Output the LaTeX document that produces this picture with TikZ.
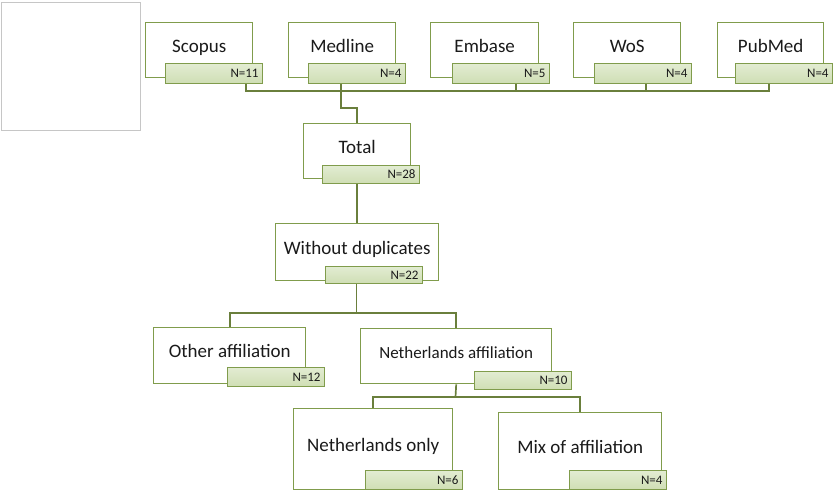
\documentclass[tikz,border=0pt]{standalone}
\usepackage{fontspec}
\setmainfont{Carlito}
\usetikzlibrary{calc}
\definecolor{boxline}{HTML}{809C4C}
\definecolor{tagtop}{HTML}{E2ECD2}
\definecolor{tagfill}{HTML}{CFDEB4}
\definecolor{linkline}{HTML}{6A7F3C}
\definecolor{textgray}{HTML}{1A1A1A}
\newcommand\BoxFont{\fontsize{19}{23}\selectfont}
\newcommand\CountFont{\fontsize{13}{15}\selectfont}
\tikzset{
  mainbox/.style={draw=boxline, line width=1.4pt, fill=white, anchor=north west,
    inner sep=0pt, text height=13pt, text depth=9pt, text=textgray, font=\BoxFont},
  countbox/.style={draw=boxline, line width=1.1pt, top color=tagtop, bottom color=tagfill,
    anchor=north west, inner xsep=4pt, inner ysep=0pt, minimum height=#1,
    text width=89pt, align=right, text=textgray, font=\CountFont},
  countbox/.default=18pt,
  link/.style={draw=linkline, line width=1.7pt}
}
\begin{document}
\begin{tikzpicture}[x=1pt,y=-1pt]
  \useasboundingbox (0,0) rectangle (833,493);
  \node[draw=gray!45, line width=0.8pt, minimum width=139pt, minimum height=128pt,
    anchor=north west, inner sep=0pt] (blank) at (1,2) {};
  % databases
  \node[mainbox, minimum width=107pt, minimum height=55pt] (scopus) at (145,22) {Scopus};
  \node[countbox=20pt] (scopusN) at (165,63) {N=11};
  \node[mainbox, minimum width=107pt, minimum height=55pt] (medline) at (288,22) {Medline};
  \node[countbox=20pt] (medlineN) at (308,63) {N=4};
  \node[mainbox, minimum width=108pt, minimum height=55pt] (embase) at (430,22) {Embase};
  \node[countbox=20pt] (embaseN) at (452,63) {N=5};
  \node[mainbox, minimum width=107pt, minimum height=55pt] (wos) at (573,22) {WoS};
  \node[countbox=20pt] (wosN) at (594,63) {N=4};
  \node[mainbox, minimum width=106pt, minimum height=55pt] (pubmed) at (717,22) {PubMed};
  \node[countbox=20pt] (pubmedN) at (735,63) {N=4};
  % merged
  \node[mainbox, minimum width=107pt, minimum height=55pt] (total) at (303,123) {Total};
  \node[countbox] (totalN) at (322,165) {N=28};
  \node[mainbox, minimum width=163pt, minimum height=57pt] (nodup) at (275,223) {Without duplicates};
  \node[countbox=17pt] (nodupN) at (325,266) {N=22};
  % affiliation
  \node[mainbox, minimum width=152pt, minimum height=56pt] (other) at (153,327) {Other affiliation};
  \node[countbox=19pt] (otherN) at (227,367) {N=12};
  \node[mainbox, minimum width=191pt, minimum height=55pt, font=\fontsize{17}{20}\selectfont]
    (neth) at (360,328) {Netherlands affiliation};
  \node[countbox] (nethN) at (474,371) {N=10};
  \node[mainbox, minimum width=159pt, minimum height=81pt] (nlonly) at (293,408) {Netherlands only};
  \node[countbox=19pt] (nlonlyN) at (365,470) {N=6};
  \node[mainbox, minimum width=163pt, minimum height=77pt] (mix) at (498,412) {Mix of affiliation};
  \node[countbox=19pt] (mixN) at (569,470) {N=4};

  % connectors
  \coordinate (bus1) at (246,91);
  \coordinate (bus2) at (341,91);
  \coordinate (bus3) at (516,91);
  \coordinate (bus4) at (646,91);
  \coordinate (bus5) at (769,91);
  \draw[link] (scopusN.south -| bus1) -- (bus1) -- (bus5) -- (pubmedN.south -| bus5);
  \draw[link] (embaseN.south -| bus3) -- (bus3);
  \draw[link] (wosN.south -| bus4) -- (bus4);
  \draw[link] (medlineN.south -| bus2) |- ($(total.north)+(0,-15)$) -- (total.north);
  \draw[link] (totalN.south -| total.north) -- (nodup.north);
  \coordinate (split1) at (356.5,313);
  \draw[link] (nodupN.south -| split1) -- (split1);
  \draw[link] (other.north) |- (split1) -| (neth.north);
  \coordinate (split2) at (455.5,397);
  \draw[link] (neth.south) -- (split2);
  \draw[link] (nlonly.north) |- (split2) -| (mix.north);
\end{tikzpicture}
\end{document}
